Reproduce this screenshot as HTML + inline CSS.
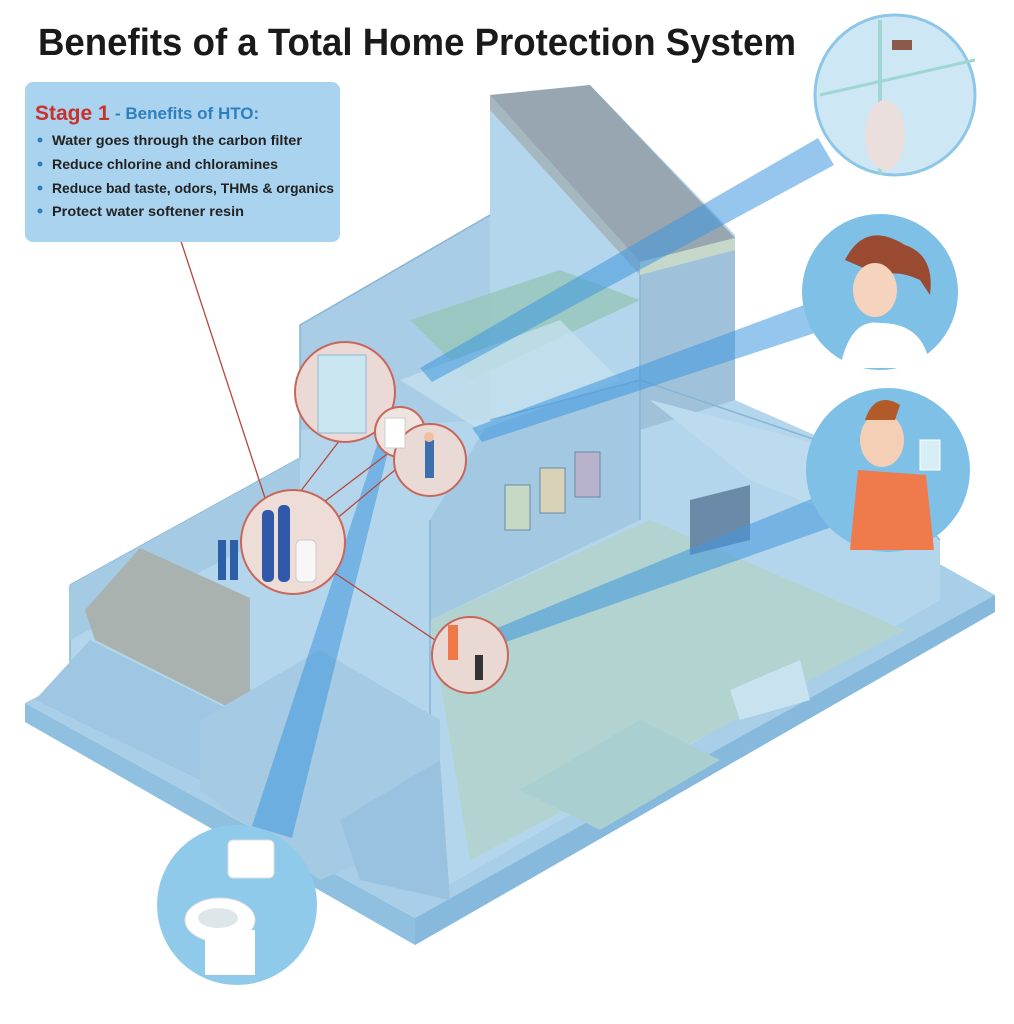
<!DOCTYPE html>
<html><head><meta charset="utf-8"><style>
html,body{margin:0;padding:0;background:#fff;width:1014px;height:1024px;overflow:hidden}
svg{display:block}
</style></head><body>
<svg width="1014" height="1024" viewBox="0 0 1014 1024" xmlns="http://www.w3.org/2000/svg">
<rect width="1014" height="1024" fill="#fff"/>
<text x="38" y="55" font-family="Liberation Sans, sans-serif" font-weight="bold" font-size="38" fill="#1a1a1a" textLength="758" lengthAdjust="spacingAndGlyphs">Benefits of a Total Home Protection System</text>

<!-- platform -->
<polygon points="25,703 415,918 995,595 995,612 415,945 25,722" fill="#8fc0e0"/>
<polygon points="25,703 300,560 700,430 995,595 415,918" fill="#a9cfe8"/>
<polygon points="415,918 995,595 995,612 415,945" fill="#86b9dc"/>
<!-- house body -->
<polygon points="70,585 300,458 300,325 490,215 490,95 590,85 735,235 735,400 860,455 940,540 940,600 440,890 70,700" fill="#b4d6ec"/>
<!-- living floor -->
<polygon points="430,620 650,520 905,630 470,860" fill="#b2d3cf"/>
<polygon points="520,790 640,720 720,760 600,830" fill="#aacfd0"/>
<!-- interior walls -->
<polygon points="300,325 490,215 490,420 300,430" fill="#a9cde6"/>
<polygon points="490,420 640,380 640,520 430,620 430,520" fill="#a2c8e2"/>
<polygon points="640,262 735,240 735,400 640,430" fill="#9fc2da"/>
<polygon points="650,400 860,455 900,540 750,480" fill="#bddbee"/>
<polygon points="410,320 560,270 640,300 470,380" fill="#96c6b9" opacity="0.8"/>
<polygon points="400,380 560,320 620,380 480,430" fill="#c3e0ee" opacity="0.8"/>
<g stroke="#86b5d6" stroke-width="1.5" fill="none">
<polyline points="70,585 300,458 300,325 490,215"/>
<polyline points="490,420 640,380 860,455 940,540"/>
<line x1="640" y1="262" x2="640" y2="520"/>
<line x1="430" y1="520" x2="430" y2="880"/>
<line x1="70" y1="585" x2="70" y2="700"/>
</g>
<!-- garage -->
<polygon points="70,585 300,458 300,520 70,640" fill="#a5cbe4"/>
<polygon points="85,610 140,548 250,598 250,718 95,640" fill="#a9b2ae"/>
<polygon points="35,700 90,640 250,720 250,760 200,780" fill="#9fc6e2"/>
<!-- kitchen lower blocks -->
<polygon points="200,720 320,650 440,720 440,830 320,880 200,790" fill="#a4cae4"/>
<polygon points="340,820 440,760 450,900 360,880" fill="#98c2e0"/>
<rect x="505" y="485" width="25" height="45" fill="#c5d9c5" stroke="#6f8aa0"/>
<rect x="540" y="468" width="25" height="45" fill="#d8d2b8" stroke="#6f8aa0"/>
<rect x="575" y="452" width="25" height="45" fill="#b8b2cc" stroke="#6f8aa0"/>
<polygon points="690,500 750,485 750,540 690,555" fill="#6b8aa8"/>
<polygon points="730,690 800,660 810,700 740,720" fill="#c9e2f0"/>
<!-- roof -->
<polygon points="490,95 590,85 735,238 640,262" fill="#97a6b0"/>
<polygon points="640,262 735,238 735,250 640,275" fill="#c6d8c9"/>
<polygon points="490,95 640,262 640,275 490,110" fill="#a5b8c0"/>
<!-- beams -->
<g fill="#3f98df" opacity="0.55">
<polygon points="818,138 834,165 432,382 420,368"/>
<polygon points="812,302 818,332 482,442 472,428"/>
<polygon points="838,488 846,522 506,642 497,628"/>
<polygon points="377,445 388,452 292,838 252,826"/>
</g>
<!-- red connectors -->
<g stroke="#b5473d" stroke-width="1.3" fill="none">
<line x1="178" y1="232" x2="265" y2="498"/>
<line x1="300" y1="492" x2="340" y2="440"/>
<line x1="320" y1="505" x2="395" y2="448"/>
<line x1="335" y1="520" x2="395" y2="470"/>
<line x1="330" y1="570" x2="435" y2="640"/>
</g>
<!-- small detail circles -->
<g stroke="#c8665c" stroke-width="2">
<circle cx="345" cy="392" r="50" fill="#ead9d4"/>
<circle cx="400" cy="432" r="25" fill="#efe3df"/>
<circle cx="430" cy="460" r="36" fill="#eadad6"/>
<circle cx="293" cy="542" r="52" fill="#eedcd6"/>
<circle cx="470" cy="655" r="38" fill="#ead8d2"/>
</g>
<rect x="318" y="355" width="48" height="78" fill="#c9e6f1" stroke="#8fb9cf"/>
<rect x="385" y="418" width="20" height="30" fill="#fff" stroke="#ccc"/>
<rect x="425" y="440" width="9" height="38" fill="#3d6fae"/>
<circle cx="429" cy="437" r="5" fill="#f0c0a0"/>
<rect x="262" y="510" width="12" height="72" rx="5" fill="#2f58a8"/>
<rect x="278" y="505" width="12" height="77" rx="5" fill="#2f58a8"/>
<rect x="296" y="540" width="20" height="42" rx="5" fill="#f7f7f7" stroke="#ccc"/>
<rect x="218" y="540" width="8" height="40" fill="#2d5ea8"/>
<rect x="230" y="540" width="8" height="40" fill="#2d5ea8"/>
<rect x="448" y="625" width="10" height="35" fill="#f07848"/>
<rect x="475" y="655" width="8" height="25" fill="#333"/>

<!-- info box -->
<rect x="25" y="82" width="315" height="160" rx="8" fill="#a9d3ee"/>
<g font-family="Liberation Sans, sans-serif" font-weight="bold">
<text x="35" y="120" font-size="21" fill="#c8322b">Stage 1</text>
<text x="115" y="119" font-size="17" fill="#2f7fc0">- Benefits of HTO:</text>
<g font-size="14" fill="#222">
<text x="52" y="145" textLength="250" lengthAdjust="spacingAndGlyphs">Water goes through the carbon filter</text>
<text x="52" y="169" textLength="226" lengthAdjust="spacingAndGlyphs">Reduce chlorine and chloramines</text>
<text x="52" y="193" textLength="282" lengthAdjust="spacingAndGlyphs">Reduce bad taste, odors, THMs &amp; organics</text>
<text x="52" y="216" textLength="192" lengthAdjust="spacingAndGlyphs">Protect water softener resin</text>
</g>
</g>
<g fill="#2f7fc0"><circle cx="40" cy="140" r="2.5"/><circle cx="40" cy="164" r="2.5"/><circle cx="40" cy="188" r="2.5"/><circle cx="40" cy="211" r="2.5"/></g>

<!-- big circles -->
<circle cx="895" cy="95" r="80" fill="#cde8f4" stroke="#8dc6e6" stroke-width="3"/>
<line x1="880" y1="20" x2="880" y2="175" stroke="#9fd6d4" stroke-width="4"/>
<line x1="820" y1="95" x2="975" y2="60" stroke="#9fd6d4" stroke-width="3"/>
<rect x="892" y="40" width="20" height="10" fill="#8a5a4a"/>
<ellipse cx="885" cy="135" rx="20" ry="35" fill="#eadfdc"/>
<circle cx="880" cy="292" r="78" fill="#7fc0e7"/>
<path d="M845 260 q20 -40 60 -15 q30 10 25 50 l-10 -15 q-20 -10 -40 -5 z" fill="#9b4a32"/>
<ellipse cx="875" cy="290" rx="22" ry="27" fill="#f6d3bd"/>
<path d="M840 368 q10 -50 40 -45 q45 0 50 45 z" fill="#fff"/>
<circle cx="888" cy="470" r="82" fill="#7fc0e7"/>
<ellipse cx="882" cy="440" rx="22" ry="27" fill="#f5cfb5"/>
<path d="M865 420 q10 -30 35 -15 l-5 15 z" fill="#b25a2a"/>
<path d="M850 550 l8 -80 l68 5 l8 75 z" fill="#ef7a4c"/>
<rect x="920" y="440" width="20" height="30" fill="#d8eef7" stroke="#fff"/>
<circle cx="237" cy="905" r="80" fill="#8fcaeb"/>
<rect x="228" y="840" width="46" height="38" rx="5" fill="#fff" stroke="#ddd"/>
<ellipse cx="220" cy="920" rx="35" ry="22" fill="#fff" stroke="#ddd"/>
<ellipse cx="218" cy="918" rx="20" ry="10" fill="#dfe6ea"/>
<rect x="205" y="930" width="50" height="45" fill="#fff"/>
</svg>
</body></html>
